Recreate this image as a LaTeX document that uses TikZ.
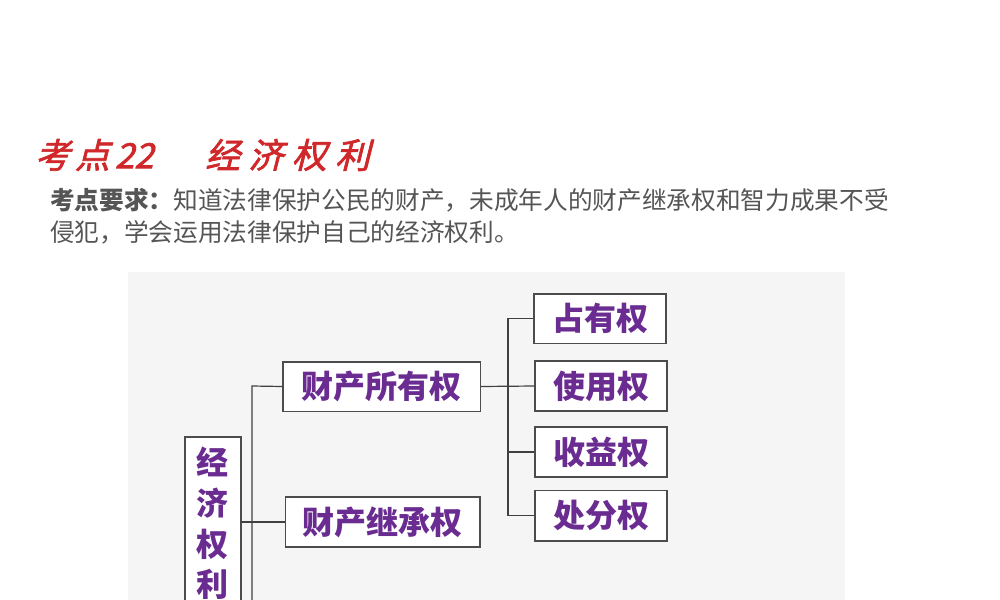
\documentclass[tikz,border=0pt]{standalone}
\usepackage{fontspec}
\newfontfamily\cjk{Noto Sans CJK SC}
\newfontfamily\cjkslant{Noto Sans CJK SC}[FakeSlant=0.25,FakeBold=2]
\definecolor{purp}{HTML}{6A2C91}
\definecolor{ttl}{HTML}{D0282A}
\definecolor{gtxt}{HTML}{555555}
\tikzset{
  box/.style={draw=black!70,line width=1pt,fill=white,text=purp,font=\cjk\bfseries\fontsize{24}{28}\selectfont,inner sep=0pt},
  conn/.style={draw=black!75,line width=0.9pt}
}
\begin{document}
\begin{tikzpicture}[x=0.75pt,y=-0.75pt]
\useasboundingbox (0,0) rectangle (1000,600);
\fill[white] (0,0) rectangle (1000,600);
\fill[gray!8] (128,272) rectangle (845,600);
\node[anchor=west,text=ttl,font=\cjkslant\fontsize{26}{30}\selectfont,inner sep=0pt] (t1) at (35,155) {考\hspace{0.15em}点\hspace{0.15em}22};
\node[anchor=west,text=ttl,font=\cjkslant\fontsize{26}{30}\selectfont,inner sep=0pt] (t2) at (205,155) {经\hspace{0.25em}济\hspace{0.25em}权\hspace{0.25em}利};
\node[anchor=west,text=gtxt,font=\cjk\fontsize{18.5}{22}\selectfont,inner sep=0pt] (s1) at (50,200) {{\bfseries 考点要求：}知道法律保护公民的财产，未成年人的财产继承权和智力成果不受};
\node[anchor=west,text=gtxt,font=\cjk\fontsize{18.5}{22}\selectfont,inner sep=0pt] (s2) at (50,232) {侵犯，学会运用法律保护自己的经济权利。};
% boxes
\node[box,minimum width=99pt,minimum height=37pt] (zy) at (600,318.5) {占有权};
\node[box,minimum width=148pt,minimum height=37pt] (sy) at (381.5,386.5) {财产所有权};
\node[box,minimum width=99pt,minimum height=37.5pt] (syq) at (601,386) {使用权};
\node[box,minimum width=99pt,minimum height=37.5pt] (sq) at (601,452) {收益权};
\node[box,minimum width=99pt,minimum height=38pt] (cf) at (601,515.5) {处分权};
\node[box,minimum width=146pt,minimum height=37.5pt] (jc) at (382.5,522) {财产继承权};
\draw[box] (185,437) rectangle (241,610);
\node[text=purp,font=\cjk\bfseries\fontsize{24}{30.5}\selectfont,align=center,anchor=north,inner sep=0pt] (root) at (212,447) {经\\济\\权\\利};
\coordinate (rb) at (252,610);
\coordinate (jt) at (508,386);
% connectors
\draw[conn] (rb) -- (252,386) -- (sy.west);
\draw[conn] (241,522) -- (jc.west);
\draw[conn] (sy.east) -- (syq.west);
\draw[conn] (zy.west) -| (jt) |- (cf.west);
\draw[conn] (jt |- sq.west) -- (sq.west);
\end{tikzpicture}
\end{document}
